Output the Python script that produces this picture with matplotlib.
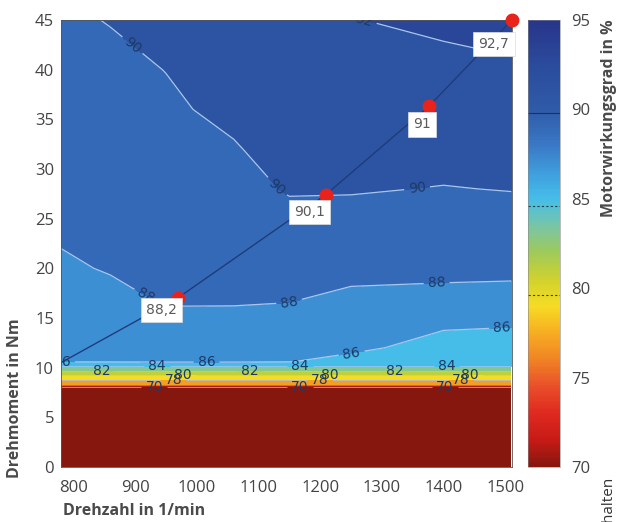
"""Motor efficiency map (Drehzahl vs. Drehmoment) with operating line."""

import numpy as np
import matplotlib
matplotlib.use("Agg")
import matplotlib.pyplot as plt
from matplotlib.colors import LinearSegmentedColormap, Normalize
from matplotlib.cm import ScalarMappable

plt.rcParams.update({"font.family": ["Open Sans", "DejaVu Sans"]})

# grid of the map
speed = [780, 860, 950, 1060, 1150, 1250, 1400, 1510]
torque = [0, 8, 8.25, 8.75, 9.25, 9.7, 10.15, 10.6, 12, 14, 16, 18, 20,
          22, 25, 28, 32, 36, 40, 45]

# efficiency in %, one row per torque value, one column per speed value
efficiency = [
    [60.0, 60.0, 60.0, 60.0, 60.0, 60.0, 60.0, 60.0],
    [68.0, 68.0, 68.0, 68.0, 68.0, 68.0, 68.0, 68.0],
    [76.0, 76.0, 76.0, 76.0, 76.0, 76.0, 76.0, 76.0],
    [78.0, 78.0, 78.0, 78.0, 78.0, 78.0, 78.0, 78.0],
    [80.0, 80.0, 80.0, 80.0, 80.0, 80.0, 80.0, 80.0],
    [82.0, 82.0, 82.0, 82.0, 82.0, 82.0, 82.0, 82.0],
    [84.0, 84.0, 84.0, 84.0, 84.0, 84.0, 84.0, 84.0],
    [86.1, 86.1, 86.2, 86.2, 86.05, 85.4, 84.8, 84.7],
    [86.5, 86.6, 86.8, 86.8, 86.6, 86.4, 85.3, 85.2],
    [86.9, 87.0, 87.5, 87.4, 87.2, 86.8, 86.1, 85.98],
    [87.2, 87.4, 87.97, 87.95, 87.85, 87.4, 87.0, 86.9],
    [87.5, 87.8, 88.3, 88.4, 88.4, 87.95, 87.85, 87.8],
    [87.8, 88.1, 88.6, 88.8, 88.9, 88.5, 88.4, 88.35],
    [88.0, 88.4, 88.8, 89.1, 89.3, 88.9, 88.8, 88.8],
    [88.4, 88.7, 89.1, 89.4, 89.7, 89.6, 89.4, 89.5],
    [88.7, 89.0, 89.4, 89.6, 90.1, 90.1, 89.95, 90.05],
    [89.0, 89.3, 89.6, 89.9, 90.5, 90.6, 90.5, 90.6],
    [89.3, 89.5, 89.8, 90.3, 90.9, 91.1, 91.0, 91.1],
    [89.5, 89.7, 90.02, 90.8, 91.3, 91.5, 91.6, 91.7],
    [89.8, 90.05, 90.6, 91.3, 91.7, 91.95, 92.3, 92.8],
]

levels = [70, 72, 74, 76, 78, 80, 82, 84, 86, 88, 90, 92, 94]
line_levels = [70, 78, 80, 82, 84, 86, 88, 90, 92]

# operating line and the marked points on it
op_speed = [780, 969, 1209, 1376, 1511]
op_torque = [10.5, 17.0, 27.4, 36.3, 45.0]
point_labels = ["88,2", "90,1", "91", "92,7"]
label_offsets = [(-16, -12), (-16, -17), (-7, -18), (-18, -24)]

# where the contour labels sit (speed, torque)
label_pos = {
    90: [(899, 42.7), (1121, 27.7), (1357, 28.2)],
    92: [(1229, 44.7)],
    88: [(918, 17.3), (1151, 16.3), (1389, 18.4)],
    86: [(782, 10.6), (1016, 10.6), (1251, 11.5), (1495, 14.0)],
    84: [(935, 10.15), (1167, 10.15), (1405, 10.15)],
    82: [(847, 9.7), (1086, 9.7), (1321, 9.7)],
    80: [(978, 9.25), (1215, 9.25), (1443, 9.25)],
    78: [(962, 8.75), (1200, 8.75), (1428, 8.75)],
    70: [(931, 8.06), (1167, 8.06), (1402, 8.06)],
}

cmap_colors = [
    (70.0, "#86170f"), (71.5, "#c81a16"), (73.0, "#df2a20"), (74.5, "#e9502a"),
    (76.0, "#f08424"), (77.5, "#f7ad22"), (79.0, "#f6dc24"), (80.5, "#cfd22e"),
    (82.0, "#9fca5a"), (83.5, "#78c5a6"), (85.0, "#46bde9"), (86.5, "#3f9ddd"),
    (88.0, "#3a78c6"), (90.0, "#2f5ba8"), (92.5, "#2b4b9c"), (95.0, "#28358a"),
]
cmap = LinearSegmentedColormap.from_list(
    "eff", [((v - 70) / 25, c) for v, c in cmap_colors])
cmap.set_under("#86170f")
norm = Normalize(vmin=70, vmax=95)

fig = plt.figure(figsize=(6.19, 5.22), dpi=100)
ax = fig.add_axes([0.0985, 0.1054, 0.7286, 0.8563])
cax = fig.add_axes([0.853, 0.1054, 0.0517, 0.8563])

X, Y = np.meshgrid(speed, torque)
Z = np.array(efficiency)
ax.contourf(X, Y, Z, levels=levels, cmap=cmap, norm=norm, extend="min")

for lev in line_levels:
    lw = 0.9 if lev >= 86 else 0.5
    cs = ax.contour(X, Y, Z, levels=[lev], colors="#a9c7ee", linewidths=lw)
    if lev in label_pos:
        texts = cs.clabel(manual=label_pos[lev], inline=True, fmt="%d",
                          fontsize=10, colors="#1d3a66")
        for t in texts:
            t.set_family("DejaVu Sans")

ax.plot(op_speed, op_torque, color="#1f3c7a", lw=1.0)
ax.plot(op_speed[1:], op_torque[1:], "o", color="#e8231c", ms=9,
        clip_on=False, zorder=6)
for x, y, txt, off in zip(op_speed[1:], op_torque[1:], point_labels, label_offsets):
    ax.annotate(txt, (x, y), xytext=off, textcoords="offset pixels",
                ha="center", va="center", fontsize=10, color="#5a5a5a",
                family="DejaVu Sans", zorder=7,
                bbox=dict(boxstyle="square,pad=0.38", fc="white", ec="#dddddd", lw=0.5))

ax.set_xlim(780, 1511)
ax.set_ylim(0, 45)
ax.set_xticks(range(800, 1501, 100))
ax.set_yticks(range(0, 46, 5))
ax.tick_params(axis="x", length=0, labelsize=12, colors="#444444", pad=9.5)
ax.tick_params(axis="y", length=0, labelsize=12, colors="#444444", pad=5)
for s in ax.spines.values():
    s.set_color("#555555")
    s.set_linewidth(0.6)

cb = fig.colorbar(ScalarMappable(norm=norm, cmap=cmap), cax=cax)
cb.set_ticks(range(70, 96, 5))
cb.ax.tick_params(length=0, labelsize=12, colors="#444444", pad=8)
cb.outline.set_linewidth(0.4)
cb.outline.set_edgecolor("#888888")
cax.axhline(89.8, color="#1f2f60", lw=0.8)
cax.axhline(84.6, color="#1f3f50", lw=0.8, ls=(0, (2, 2)))
cax.axhline(79.6, color="#4a4010", lw=0.8, ls=(0, (2, 2)))

fig.text(0.102, 0.022, "Drehzahl in 1/min", fontsize=11.5, fontweight="bold",
         color="#4a4a4a", ha="left", va="center")
fig.text(0.012, 0.084, "Drehmoment in Nm", fontsize=11.5, fontweight="bold",
         color="#4a4a4a", rotation=90, ha="left", va="bottom")
fig.text(0.984, 0.962, "Motorwirkungsgrad in %", fontsize=11.5, fontweight="bold",
         color="#4a4a4a", rotation=90, ha="center", va="top")
fig.text(0.985, 0.085, "vorbehalten", fontsize=11, color="#333333",
         rotation=90, ha="center", va="top")

fig.savefig("out.png", dpi=100)
